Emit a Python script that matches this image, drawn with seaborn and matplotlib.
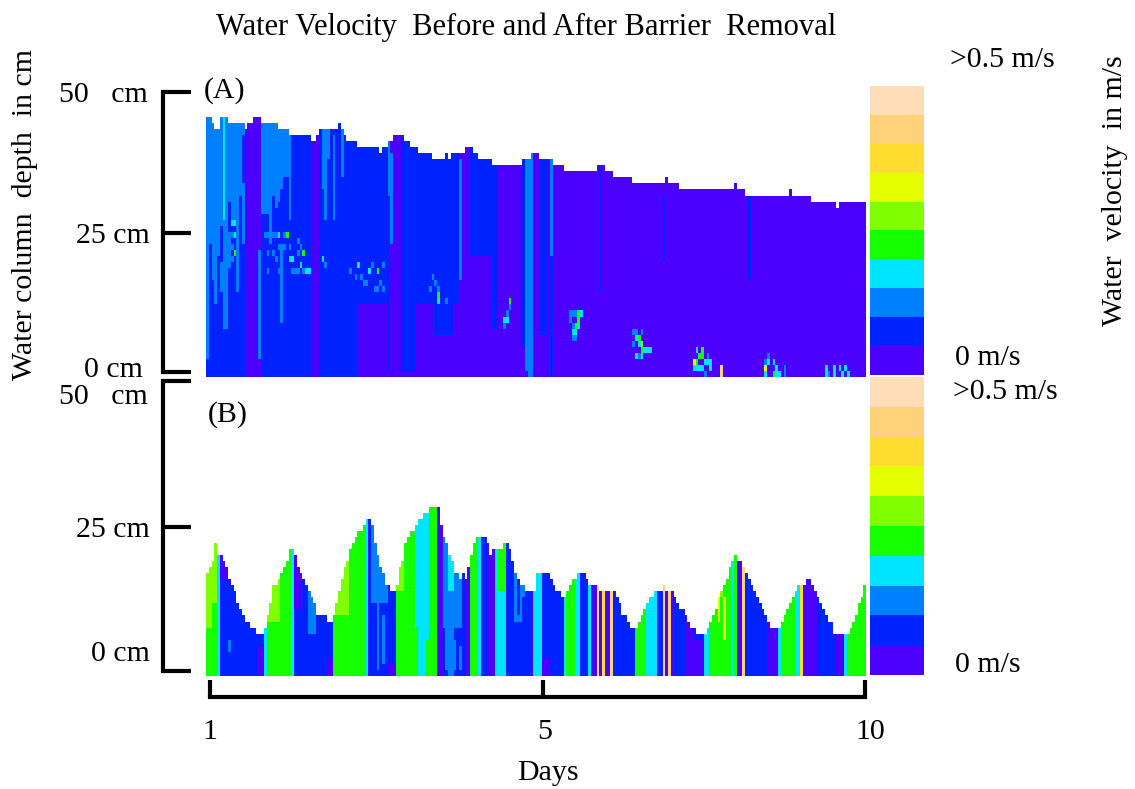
# Water velocity before and after barrier removal - two hour/depth heatmaps
import numpy as np
import matplotlib
matplotlib.use("Agg")
import matplotlib.pyplot as plt
import seaborn as sns
from matplotlib.colors import ListedColormap

# velocity classes, slowest first
class_colors = ["#4a00fb", "#0022ff", "#0080ff", "#00e5ff", "#15ff00",
                "#80ff00", "#e6ff00", "#ffdc30", "#ffd27a", "#ffddb8"]

# panel A: water surface (depth bin) as runs, ends are hours
a_top_ends = [2, 3, 5, 8, 14, 15, 17, 20, 26, 30, 38, 40, 41, 48, 49, 50, 51, 55, 63, 64,
              66, 68, 72, 74, 77, 82, 87, 88, 89, 94, 97, 99, 104, 115, 118, 121, 126, 130,
              142, 145, 148, 155, 167, 168, 172, 192, 193, 196, 212, 213, 220, 229, 230, 240]
a_top_rows = [43, 42, 41, 43, 42, 41, 42, 43, 42, 41, 40, 39, 40, 41, 42, 41, 40, 39, 38, 37,
              38, 39, 40, 39, 38, 37, 36, 37, 36, 37, 38, 37, 36, 35, 36, 37, 36, 35,
              34, 35, 34, 33, 32, 33, 32, 31, 32, 31, 30, 31, 30, 29, 28, 29]

# panel A: light blue above a_light, purple below a_purple, blue between
a_band_ends = [1, 3, 5, 6, 7, 8, 9, 11, 13, 14, 20, 23, 26, 28, 30, 38, 41, 43, 44, 50, 55, 66, 67,
               71, 76, 83, 90, 92, 96, 99, 104, 106, 115, 116, 118, 119, 121, 123, 125, 126, 143, 144, 240]
a_light = [3, 22, 20, 14, 8, 12, 18, 25, 20, 40, 99, 27, 22, 29, 33, 99, 99, 99, 26, 99, 99, 99, 30,
           99, 99, 99, 99, 99, 99, 99, 99, 99, 99, 99, 1, 12, 99, 99, 99, 20, 99, 99, 99]
a_purple = [0, 0, 0, 0, 0, 0, 0, 0, 0, 0, 99, 0, 0, 0, 0, 0, 99, 0, 0, 0, 0, 12, 1,
            99, 1, 12, 7, 12, 99, 20, 20, 8, 99, 5, 3, 0, 99, 7, 99, 0, 99, 14, 99]

# panel A: faster single cells (hour, depth bin, class)
a_cells = [(9, 25, 3), (10, 25, 3), (10, 23, 3), (9, 23, 2), (10, 20, 4), (8, 22, 2), (9, 21, 2), (9, 19, 2),
           (26, 23, 3), (25, 23, 2), (29, 23, 4), (35, 20, 4), (30, 19, 3), (31, 19, 3), (34, 18, 3),
           (36, 17, 3), (37, 17, 3), (32, 17, 2), (33, 17, 2), (23, 23, 2), (22, 23, 2), (28, 23, 2), (27, 19, 2),
           (26, 17, 2), (22, 17, 2), (33, 22, 2), (24, 20, 2), (42, 19, 3), (43, 18, 2), (55, 18, 3),
           (59, 17, 3), (62, 17, 4), (54, 16, 2), (57, 15, 2), (61, 14, 2), (64, 14, 2), (64, 18, 2), (60, 18, 2),
           (21, 23, 2), (24, 23, 2), (26, 21, 2), (28, 21, 2), (30, 21, 2), (33, 20, 2), (31, 17, 2), (35, 17, 2),
           (22, 20, 2), (25, 19, 2), (34, 21, 2), (52, 17, 2), (56, 16, 2), (58, 15, 2), (63, 15, 2), (62, 14, 2),
           (84, 13, 4), (84, 12, 3), (87, 12, 2), (81, 14, 2), (82, 16, 2), (108, 9, 3), (109, 9, 3),
           (110, 12, 4), (109, 10, 2), (108, 8, 2), (83, 15, 2), (84, 14, 2), (110, 11, 2),
           (135, 10, 4), (136, 10, 3), (135, 9, 4), (134, 8, 4), (135, 8, 3), (134, 7, 3), (133, 7, 3),
           (133, 6, 2), (132, 9, 2), (133, 10, 2), (134, 10, 2), (133, 8, 2), (134, 6, 2), (132, 10, 2),
           (156, 6, 3), (157, 6, 4), (158, 5, 5), (158, 4, 4), (157, 5, 3), (159, 4, 3), (156, 3, 3),
           (157, 3, 2), (160, 4, 3), (161, 4, 3), (155, 7, 2), (156, 7, 2), (158, 7, 2), (158, 3, 3), (155, 5, 2),
           (177, 2, 6), (178, 2, 4), (179, 3, 4), (180, 3, 4), (178, 4, 3), (180, 4, 4), (181, 2, 3), (182, 2, 3),
           (183, 2, 3), (178, 1, 3), (179, 1, 3), (183, 1, 3), (180, 1, 3), (181, 0, 2), (177, 1, 3), (182, 3, 2),
           (187, 0, 8), (187, 1, 8), (203, 1, 6), (204, 2, 3), (206, 2, 3), (207, 1, 3), (206, 0, 4), (207, 0, 3),
           (203, 2, 2), (204, 3, 2), (208, 0, 3), (203, 0, 3), (210, 1, 2), (210, 0, 2),
           (225, 1, 3), (228, 1, 3), (230, 1, 3), (232, 1, 3), (225, 0, 3), (226, 0, 2), (228, 0, 3),
           (231, 0, 3), (233, 0, 3)]

# panel A: thin vertical streaks (hour, from bin, to bin, class)
a_streaks = [(6, 26, 43, 3), (19, 3, 21, 2), (27, 9, 22, 2), (12, 12, 30, 1), (44, 36, 41, 2),
             (42, 31, 41, 2), (49, 33, 42, 2), (67, 22, 37, 2), (92, 16, 36, 2), (117, 0, 35, 2),
             (118, 0, 33, 2), (166, 19, 30, 1), (197, 16, 31, 1), (122, 7, 36, 1), (123, 7, 36, 1),
             (2, 16, 22, 2), (3, 12, 20, 2), (7, 8, 12, 2), (11, 14, 20, 2), (46, 26, 40, 2),
             (22, 18, 27, 1), (24, 20, 30, 1), (25, 22, 28, 1), (27, 24, 31, 1), (29, 20, 33, 1),
             (30, 26, 40, 2), (5, 19, 25, 1), (8, 24, 29, 1), (13, 22, 32, 2)]

# panel B: water surface for each hour
b_top_rows = [17, 18, 19, 22, 20, 20, 19, 18, 16, 15, 14, 12, 11, 10, 9, 9, 8, 8, 7, 7,
              7, 8, 10, 12, 15, 15, 16, 17, 18, 19, 21, 21, 20, 18, 17, 16, 15, 14, 13, 12,
              10, 10, 10, 10, 9, 9, 10, 12, 14, 16, 18, 19, 21, 22, 23, 24, 24, 25, 26, 26,
              25, 22, 20, 18, 17, 15, 15, 14, 14, 15, 18, 19, 22, 23, 24, 24, 25, 26, 26, 27,
              27, 28, 28, 28, 28, 25, 23, 22, 20, 19, 17, 17, 16, 17, 16, 18, 20, 22, 23, 23,
              23, 23, 22, 20, 21, 21, 21, 21, 22, 22, 21, 19, 17, 16, 15, 15, 14, 14, 14, 14,
              17, 17, 17, 17, 17, 16, 15, 14, 14, 13, 13, 14, 15, 16, 16, 17, 17, 17, 16, 15,
              15, 15, 15, 14, 14, 14, 14, 14, 14, 13, 12, 10, 10, 9, 8, 8, 8, 9, 10, 11,
              12, 13, 13, 14, 14, 14, 15, 14, 14, 14, 13, 12, 11, 11, 10, 9, 8, 8, 7, 7,
              7, 7, 8, 9, 10, 11, 13, 14, 15, 16, 18, 19, 20, 19, 19, 18, 17, 16, 15, 14,
              13, 12, 11, 10, 9, 8, 8, 8, 8, 9, 10, 11, 12, 13, 14, 15, 15, 15, 16, 16,
              15, 14, 13, 12, 11, 10, 9, 9, 7, 7, 7, 7, 7, 7, 8, 9, 10, 12, 13, 15]

# panel B: each run has a class above b_split and a class below it
b_band_ends = [2, 4, 5, 8, 19, 21, 22, 27, 31, 32, 35, 37, 40, 44, 46, 52, 58, 59, 60,
               66, 69, 72, 76, 81, 84, 86, 88, 90, 93, 94, 96, 99, 100, 102, 105, 106, 109, 112, 116,
               118, 119, 122, 125, 130, 131, 134, 136, 139, 140, 142, 143, 144, 145, 147, 148, 156, 160, 164, 166,
               167, 168, 169, 170, 174, 177, 181, 183, 185, 188, 191, 192, 193, 195, 196, 204, 208, 209, 214, 216,
               217, 222, 229, 232, 233, 240]
b_upper = [5, 5, 3, 0, 1, 1, 3, 5, 4, 3, 0, 1, 2, 1, 1, 5, 4, 3, 1,
           2, 1, 5, 4, 3, 4, 0, 2, 3, 2, 1, 0, 4, 3, 1, 0, 3, 4, 1, 2,
           1, 0, 3, 1, 1, 3, 4, 3, 1, 3, 0, 8, 0, 7, 0, 8, 1, 4, 3, 1,
           8, 0, 8, 0, 1, 0, 1, 3, 4, 5, 4, 3, 4, 0, 8, 1, 0, 3, 4, 3,
           7, 0, 1, 0, 3, 4]
b_split = [8, 12, 0, 16, 0, 5, 0, 9, 0, 0, 11, 0, 7, 0, 3, 10, 0, 0, 0,
           12, 2, 14, 0, 0, 0, 0, 8, 14, 8, 0, 0, 0, 0, 0, 0, 0, 14, 0, 9,
           0, 0, 0, 3, 0, 0, 0, 0, 0, 0, 0, 0, 0, 0, 0, 0, 0, 0, 0, 0,
           0, 0, 0, 0, 0, 0, 6, 0, 0, 13, 0, 0, 0, 0, 0, 0, 0, 0, 0, 0,
           0, 0, 0, 0, 0, 0]
b_lower = [4, 4, 3, 1, 1, 0, 3, 4, 4, 3, 1, 1, 1, 1, 0, 4, 4, 3, 1,
           1, 0, 4, 4, 3, 4, 0, 1, 2, 1, 1, 0, 4, 3, 1, 0, 3, 3, 1, 1,
           1, 0, 3, 0, 1, 3, 4, 3, 1, 3, 0, 8, 0, 7, 0, 8, 1, 4, 3, 1,
           8, 0, 8, 0, 1, 0, 0, 3, 4, 4, 4, 3, 4, 0, 8, 1, 0, 3, 4, 3,
           7, 0, 1, 0, 3, 4]

# panel B: thin vertical streaks (hour, from bin, to bin, class)
b_streaks = [(8, 4, 6, 2), (64, 2, 10, 2), (62, 1, 12, 2), (39, 4, 7, 1), (87, 1, 8, 2),
             (90, 1, 6, 2), (92, 1, 5, 2), (76, 0, 8, 4), (80, 0, 6, 4), (113, 10, 16, 1),
             (115, 9, 13, 1), (188, 6, 13, 6), (186, 9, 14, 6)]

legend_classes = list(range(9, -1, -1))
day_hours = [1.45, 122.5, 239.6]
a_tick_bins = [0.83, 23.8, 47.1]
b_tick_bins = [0.83, 24.6, 48.8]

N_ROWS_A = 48
N_ROWS_B = 49
W, H = 1135, 789


def expand(ends, values):
    return np.repeat(values, np.diff([0] + ends))


def build_a():
    top = expand(a_top_ends, a_top_rows)
    light = expand(a_band_ends, a_light)
    purple = expand(a_band_ends, a_purple)
    m = np.full((N_ROWS_A, 240), np.nan)
    for h in range(240):
        for r in range(top[h]):
            if r >= light[h]:
                m[r, h] = 2
            elif r < purple[h]:
                m[r, h] = 0
            else:
                m[r, h] = 1
    for h, lo, hi, c in a_streaks:
        m[lo:min(hi, top[h]), h] = c
    for h, r, c in a_cells:
        m[r, h] = c
    return m


def build_b():
    upper = expand(b_band_ends, b_upper)
    split = expand(b_band_ends, b_split)
    lower = expand(b_band_ends, b_lower)
    m = np.full((N_ROWS_B, 240), np.nan)
    for h in range(240):
        for r in range(b_top_rows[h]):
            m[r, h] = upper[h] if r >= split[h] else lower[h]
    for h, lo, hi, c in b_streaks:
        m[lo:min(hi, b_top_rows[h]), h] = c
    return m


def axes_px(fig, x0, y0, x1, y1):
    # pixel box, measured from the top left
    return fig.add_axes([x0 / W, 1 - y1 / H, (x1 - x0) / W, (y1 - y0) / H])


def label(fig, x, y, s, **kw):
    fig.text(x / W, 1 - y / H, s, va="center", **kw)


sns.set_theme(style="white")
plt.rcParams["font.family"] = ["Liberation Serif"]
plt.rcParams["text.color"] = "black"
FS = 21.5
LW = 3

cmap = ListedColormap(class_colors)
fig = plt.figure(figsize=(W / 100, H / 100), dpi=100, facecolor="white")

ax_a = axes_px(fig, 206, 86.6, 866, 377)
ax_b = axes_px(fig, 206, 379.5, 866, 676)
for ax, mat, bins in [(ax_a, build_a(), a_tick_bins), (ax_b, build_b(), b_tick_bins)]:
    sns.heatmap(mat, ax=ax, cmap=cmap, vmin=-0.5, vmax=9.5, cbar=False,
                xticklabels=False, yticklabels=False)
    ax.invert_yaxis()
    ax.spines["left"].set_visible(True)
    ax.spines["left"].set_position(("outward", 31))
    ax.spines["left"].set_bounds(bins[0], bins[-1])
    ax.spines["left"].set_color("black")
    ax.spines["left"].set_linewidth(LW)
    ax.set_yticks(bins)
    ax.set_yticklabels([])
    ax.tick_params(axis="y", direction="in", left=True, length=20, width=LW, color="black")

ax_b.spines["bottom"].set_visible(True)
ax_b.spines["bottom"].set_position(("outward", 15))
ax_b.spines["bottom"].set_bounds(day_hours[0], day_hours[-1])
ax_b.spines["bottom"].set_color("black")
ax_b.spines["bottom"].set_linewidth(LW)
ax_b.set_xticks(day_hours)
ax_b.set_xticklabels([])
ax_b.tick_params(axis="x", direction="in", bottom=True, length=12, width=LW, color="black")

# legend strips
for y0, y1 in [(86, 375), (377, 675)]:
    ax_c = axes_px(fig, 870, y0, 924, y1)
    sns.heatmap(np.array(legend_classes).reshape(-1, 1), ax=ax_c, cmap=cmap, vmin=-0.5, vmax=9.5,
                cbar=False, xticklabels=False, yticklabels=False)

# texts
label(fig, 526, 27, "Water Velocity  Before and After Barrier  Removal", ha="center", fontsize=22)
label(fig, 225, 91, "(A)", ha="center", fontsize=FS)
label(fig, 228, 415, "(B)", ha="center", fontsize=FS)
for x, y, s in [(148, 95, "50   cm"), (150, 236, "25 cm"), (143, 370, "0 cm"),
                (148, 397, "50   cm"), (150, 530, "25 cm"), (150, 654, "0 cm")]:
    label(fig, x, y, s, ha="right", fontsize=FS)
for x, y, s in [(950, 60, ">0.5 m/s"), (955, 358, "0 m/s"), (953, 392, ">0.5 m/s"), (955, 665, "0 m/s")]:
    label(fig, x, y, s, ha="left", fontsize=FS)
for x, s in [(210, "1"), (545, "5"), (870, "10")]:
    label(fig, x, 732, s, ha="center", fontsize=FS)
label(fig, 548, 773, "Days", ha="center", fontsize=FS)
label(fig, 25, 214, "Water column  depth  in cm", ha="center", rotation=90, fontsize=FS)
label(fig, 1115, 191, "Water  velocity  in m/s", ha="center", rotation=90, fontsize=FS)

fig.savefig("out.png", dpi=100)
